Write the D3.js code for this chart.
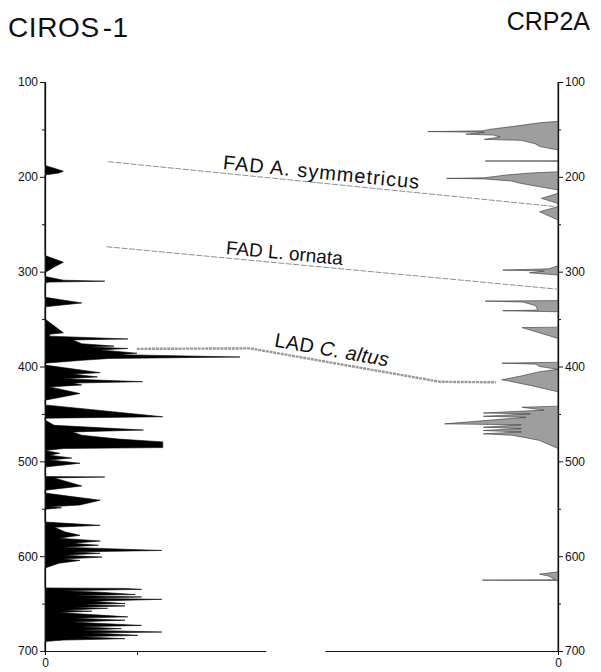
<!DOCTYPE html>
<html>
<head>
<meta charset="utf-8">
<script src="https://cdn.jsdelivr.net/npm/d3@7"></script>
<style>
html,body{margin:0;padding:0;background:#fff;}
svg{display:block;font-family:"Liberation Sans",Arial,Helvetica,sans-serif;}
</style>
</head>
<body>
<svg id="chart" width="601" height="672"></svg>
<script>
// ---- DATA ----
const wellTitles = ["CIROS-1", "CRP2A"];
const depthTicks = [100, 200, 300, 400, 500, 600, 700];
const depthMinorTicks = [150, 250, 350, 450, 550, 650];

// CIROS-1 abundance log (depth m, value)
const cirosDepth = [100,188,191,194,196,198,283,290,295,301,305,309,310,311,312,327,333,337,350,364.5,366,
  368,371,372,376,378.5,379.5,381,382.5,386,387.5,390,391.5,393.5,396.5,
  398.5,406.5,408,411,413,416,417.5,419.5,421.5,428.5,435.5,
  440.5,453,454.5,456.5,462,467,469,472.5,476.5,479.5,485.5,486.5,488.5,
  491.5,493.5,496.5,498.5,502,506,516,516.5,517.5,526,530.5,
  533.5,541,546,548,549,550.5,
  564,567.5,569.5,574.5,578,581,584,586.5,588.5,590.5,594,595.5,597,599,601,603,604.5,607.5,612.5,
  633.5,634,635,636.5,638,640.5,641.5,643,644.5,645.5,647.5,650,651,652.5,654,655,657,658,659.5,
  664,665.5,667.5,669.5,673,674.5,676.5,678,680,681,683.5,685,687,688.5,690,700];
const cirosValue = [0,0,1,2,1.5,0,0,2,1,0,0,2,6.5,0.5,0,0,4,0,0,2,0.5,
  0.5,9,3,4,7.5,5,9,6,10,8,21.2,7,4,0,
  0,6,3,5.7,2,10.6,3,4,0.5,3.8,0,
  0,12.8,0,0,1,10.7,3,4,8,12.8,12.8,2,0,
  1.6,0.5,2.9,0.5,3.8,0,0,6.5,1,4,0,
  0,6,3.8,0.5,1.8,0,
  0,6,1,2.2,3.8,1.5,6,3,5.8,2,12.7,3,6,2,6.2,2,3.8,1.5,0,
  0,8.7,10.5,2,6,9.8,3,10.5,4,12.7,5,8.7,4,8.7,3,6.8,2,5.1,1.5,
  9,3,8.7,3,10.5,4,8.3,4,12.7,5,10.1,4,8.7,2,0,0];

// CRP2A abundance log (depth m, value)
const crpDepth = [100,141.5,143,147,150,151.5,152.3,153,155,156,158,160.5,161.5,165,168,171.7,
  183,183.3,183.6,194.6,196,198,201,201.6,202.2,204.5,207,213.9,
  217.4,222.7,228,231.5,236.8,245.6,
  293.8,297,298.3,299.3,301.2,303.6,
  330.5,331,332,336,340.5,341.2,342.3,
  358.5,359,370.4,
  395.5,396.5,397.5,400,403,405.5,410,414,416,420,426.7,
  441.8,443,446,449,450,452.5,453.5,460.5,461.5,464,465.5,467.5,469,471,472.5,475,478,486.4,
  616.5,619,621,624.9,625.3,625.6,700];
const crpValue = [0,0,2,5,7.5,8.2,14.1,8,10,7,6.3,8,4,2.5,2,0,
  0,7.9,0,0,3,5.6,8,12.1,8,5,4,0,
  0,1.8,0,0,2,0,
  0,1,6,1.5,3.1,0,
  0,7.9,3.8,2.4,2.2,6,0,
  0,3.9,0,
  0,6.1,2.4,2,0,2,4,6.1,5,3,0,
  0,3.9,1.5,8.1,3,8.1,3.5,12.3,4,8.1,4,8.1,4,8.1,5,3.5,2,0,
  0,2,1,0.3,8.2,0,0];

// Correlation horizons: position between the wells (0 = CIROS-1 axis, 1 = CRP2A axis), depth
const horizonNames = ["FAD A. symmetricus", "FAD L. ornata", "LAD C. altus"];
const horizonPos = [[0.123, 0.9975], [0.12, 0.9975], [0.179, 0.4, 0.77, 0.879]];
const horizonDepth = [[184, 231.5], [273.7, 318.4], [381.4, 380.9, 416.1, 416.7]];
const horizonLabelPos = [0.345, 0.351, 0.444];

// ---- CHART ----
const svg = d3.select("#chart");
const y = d3.scaleLinear().domain([100, 700]).range([82, 651]);
const xL = d3.scaleLinear().domain([0, 24]).range([45, 265.8]);
const xR = d3.scaleLinear().domain([0, 25.3]).range([558, 325]);
const xMid = d3.scaleLinear().domain([0, 1]).range([45, 558]);

const cirosData = cirosDepth.map((d, i) => ({d, v: cirosValue[i]}));
const crpData = crpDepth.map((d, i) => ({d, v: crpValue[i]}));

// Titles
svg.append("text").attr("x", 8).attr("y", 37).attr("font-size", 28).attr("fill", "#111")
  .attr("letter-spacing", 0.6)
  .text(wellTitles[0].split("-")[0]).append("tspan").attr("dx", 3).text("-" + wellTitles[0].split("-")[1]);
svg.append("text").attr("x", 590).attr("y", 30).attr("font-size", 25).attr("fill", "#111")
  .attr("text-anchor", "end").text(wellTitles[1]);

// Correlation lines
const lineGen = d3.line().x(p => xMid(p[0])).y(p => y(p[1]));
horizonNames.forEach((name, i) => {
  const pts = horizonPos[i].map((p, j) => [p, horizonDepth[i][j]]);
  const isLAD = i === 2;
  svg.append("path").attr("d", lineGen(pts)).attr("fill", "none")
    .attr("stroke", isLAD ? "#9a9a9a" : "#8f8f8f")
    .attr("stroke-width", isLAD ? 2.4 : 1)
    .attr("stroke-dasharray", isLAD ? "3 0.8" : "6 1.5");
});

// Horizon labels
const labelSpacing = [1.0, 0, 0.3];
horizonNames.forEach((name, i) => {
  const P = horizonPos[i].map(p => xMid(p));
  const D = horizonDepth[i].map(d => y(d));
  const lx = xMid(horizonLabelPos[i]);
  let k = 0;
  for (let j = 0; j < P.length - 1; j++) { if (lx >= P[j] && lx <= P[j+1]) k = j; }
  const ang = Math.atan2(D[k+1] - D[k], P[k+1] - P[k]) * 180 / Math.PI;
  const ly = D[k] + (lx - P[k]) * (D[k+1] - D[k]) / (P[k+1] - P[k]);
  const off = i === 2 ? -6 : -4;
  const t = svg.append("text").attr("font-size", i === 1 ? 19 : 20).attr("fill", "#111")
    .attr("letter-spacing", labelSpacing[i])
    .attr("transform", `translate(${lx},${ly}) rotate(${ang}) translate(0,${off})`);
  if (i === 2) {
    t.append("tspan").text("LAD ");
    t.append("tspan").attr("font-style", "italic").text("C. altus");
  } else {
    t.text(name);
  }
});

// Logs
const areaL = d3.area().y(p => y(p.d)).x0(xL(0)).x1(p => xL(p.v)).curve(d3.curveLinear);
svg.append("path").attr("d", areaL(cirosData)).attr("fill", "#000").attr("stroke", "#000").attr("stroke-width", 0.6);
const areaR = d3.area().y(p => y(p.d)).x0(xR(0)).x1(p => xR(p.v)).curve(d3.curveLinear);
svg.append("path").attr("d", areaR(crpData)).attr("fill", "#9e9e9e").attr("stroke", "#333").attr("stroke-width", 0.6);

// Axes
function styleAxis(g) {
  g.selectAll("path.domain").attr("stroke", "#111").attr("stroke-width", 1.3);
  g.selectAll(".tick line").attr("stroke", "#111").attr("stroke-width", 1);
  g.selectAll(".tick text").attr("font-size", 12).attr("fill", "#111").attr("font-family", "Liberation Sans, Arial, sans-serif");
}
const gl = svg.append("g").attr("transform", `translate(${xL(0)},0)`)
  .call(d3.axisLeft(y).tickValues(depthTicks).tickSize(5).tickSizeOuter(0).tickPadding(2).tickFormat(d3.format("d")));
styleAxis(gl);
const glm = svg.append("g").attr("transform", `translate(${xL(0)},0)`)
  .call(d3.axisLeft(y).tickValues(depthMinorTicks).tickSize(3).tickSizeOuter(0).tickFormat(""));
styleAxis(glm); glm.select("path.domain").remove();

const gr = svg.append("g").attr("transform", `translate(${xR(0)},0)`)
  .call(d3.axisRight(y).tickValues(depthTicks).tickSize(5).tickSizeOuter(0).tickPadding(2).tickFormat(d3.format("d")));
styleAxis(gr);
const grm = svg.append("g").attr("transform", `translate(${xR(0)},0)`)
  .call(d3.axisRight(y).tickValues(depthMinorTicks).tickSize(3).tickSizeOuter(0).tickFormat(""));
styleAxis(grm); grm.select("path.domain").remove();

const gb = svg.append("g").attr("transform", `translate(0,${y(700)})`)
  .call(d3.axisBottom(xL).tickValues([0, 10]).tickSize(4).tickSizeOuter(0).tickPadding(3).tickFormat(d => d === 0 ? "0" : ""));
styleAxis(gb); gb.select("path.domain").attr("stroke-width", 1);
const gbr = svg.append("g").attr("transform", `translate(0,${y(700)})`)
  .call(d3.axisBottom(xR).tickValues([0]).tickSize(4).tickSizeOuter(0).tickPadding(3).tickFormat(d3.format("d")));
styleAxis(gbr); gbr.select("path.domain").attr("stroke-width", 1);
</script>
</body>
</html>
